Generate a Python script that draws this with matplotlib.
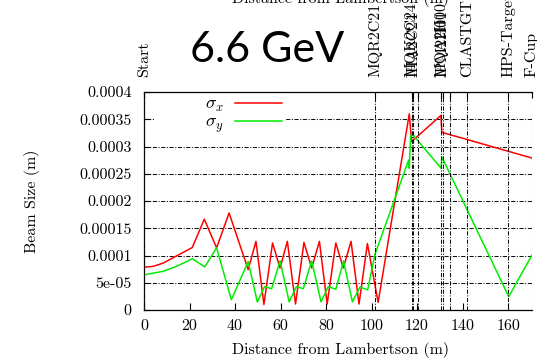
import matplotlib
matplotlib.use('Agg')
import matplotlib.pyplot as plt

plt.rcParams['font.family'] = 'serif'
plt.rcParams['font.serif'] = ['cmr10']
plt.rcParams['mathtext.fontset'] = 'cm'
plt.rcParams['axes.formatter.use_mathtext'] = True

# sigma_x (red) trace
sx_pos = [0, 4, 8.4, 14.2, 21.2, 26.5, 31.9, 37.4, 45.8, 49.2, 52.7, 56.5, 59.8, 63.0,
          66.6, 70.3, 73.7, 77.1, 80.5, 84.3, 87.6, 91.0, 94.5, 98.2, 102.9, 116.6,
          117.6, 130.5, 130.9, 170.4]
sigma_x = [7.85e-5, 8.0e-5, 8.6e-5, 9.9e-5, 1.145e-4, 1.667e-4, 1.14e-4, 1.78e-4, 7.4e-5,
           1.26e-4, 1.0e-5, 1.23e-4, 7.7e-5, 1.26e-4, 1.1e-5, 1.24e-4, 7.7e-5, 1.26e-4,
           1.1e-5, 1.23e-4, 7.7e-5, 1.26e-4, 1.1e-5, 1.22e-4, 1.4e-5, 3.60e-4, 3.09e-4,
           3.57e-4, 3.26e-4, 2.79e-4]

# sigma_y (green) trace
sy_pos = [0, 8.4, 14.2, 21.3, 26.7, 31.9, 38.4, 45.8, 49.8, 53.0, 56.1, 59.8, 63.8, 67.0,
          70.0, 73.7, 77.8, 81.0, 84.3, 87.7, 91.6, 94.9, 98.3, 101.5, 116.3, 116.6, 117.2,
          118.1, 130.6, 130.9, 160.3, 170.4]
sigma_y = [6.45e-5, 7.1e-5, 8.0e-5, 9.4e-5, 7.9e-5, 1.14e-4, 1.9e-5, 8.9e-5, 1.45e-5,
           4.3e-5, 3.9e-5, 9.0e-5, 1.5e-5, 4.3e-5, 3.9e-5, 9.0e-5, 1.5e-5, 4.3e-5, 3.8e-5,
           9.0e-5, 1.5e-5, 4.2e-5, 3.7e-5, 1.02e-4, 2.75e-4, 2.60e-4, 3.20e-4, 3.22e-4,
           2.60e-4, 2.81e-4, 2.45e-5, 1.0e-4]

# beamline elements (top axis)
elem_pos = [0, 101.5, 117.7, 118.4, 120.6, 130.5, 131.2, 134.5, 142.1, 160.1, 170.4]
elem_names = ['Start', 'MQR2C21', 'MQK2C24', 'IHA2C24', '', 'MQA2H00', 'IPM2H01', '',
              'CLASTGT', 'HPS-Target', 'F-Cup']

xtick_vals = [0, 20, 40, 60, 80, 100, 120, 140, 160]
ytick_vals = [0, 5e-5, 1e-4, 1.5e-4, 2e-4, 2.5e-4, 3e-4, 3.5e-4, 4e-4]
ytick_labels = ['0', '5e-05', '0.0001', '0.00015', '0.0002', '0.00025', '0.0003',
                '0.00035', '0.0004']

fig = plt.figure(figsize=(5.37, 3.61), dpi=100)
ax = fig.add_axes([144/537, 51/361, (531.7-144)/537, (310-92)/361])

grid_ls = (0, (4, 1.5, 1, 1.5))
ax.plot(sx_pos, sigma_x, color='#ff0000', lw=1.1, label=r'$\qquad\quad\sigma_x$', zorder=3)
ax.plot(sy_pos, sigma_y, color='#00ee00', lw=1.1, label=r'$\qquad\quad\sigma_y$', zorder=3)

ax.set_xlim(0, 170.4)
ax.set_ylim(0, 4e-4)
ax.set_xticks(xtick_vals, labels=[str(v) for v in xtick_vals])
ax.set_yticks(ytick_vals, labels=ytick_labels)
ax.tick_params(axis='both', direction='in', labelsize=11.5, width=0.8)
ax.tick_params(axis='x', length=5, pad=7)
ax.tick_params(axis='y', length=4, pad=9)
ax.grid(axis='y', color='#111111', lw=0.75, linestyle=grid_ls)
ax.spines['right'].set_visible(False)
for s in ['left', 'bottom', 'top']:
    ax.spines[s].set_linewidth(0.9)

ax2 = ax.twiny()
ax2.set_xlim(ax.get_xlim())
ax2.set_xticks(elem_pos, labels=elem_names, rotation=90)
ax2.tick_params(axis='x', direction='in', length=4, pad=11, labelsize=11.5)
ax2.grid(axis='x', color='#111111', lw=0.75, linestyle=grid_ls)
for s in ax2.spines.values():
    s.set_visible(False)

leg = ax.legend(loc='upper left', bbox_to_anchor=(0.026, 0.995), borderaxespad=0,
                markerfirst=False, frameon=True, framealpha=1, facecolor='white',
                edgecolor='none', fancybox=False, handlelength=2.6, handletextpad=0.6,
                borderpad=0.2, labelspacing=0.0, fontsize=13)
leg.set_zorder(2)

fig.text(32/537, 1 - 201/361, 'Beam Size (m)', rotation=90, ha='center', va='center',
         fontsize=11.5)
fig.text(341/537, 1 - 350/361, 'Distance from Lambertson (m)', ha='center',
         va='center', fontsize=11.5)
fig.text(341/537, 1 - 3/361, 'Distance from Lambertson (m)', ha='center',
         va='baseline', fontsize=11.5)
fig.text(267/537, 1 - 50/361, '6.6 GeV', ha='center', va='center', fontsize=31,
         family='Lato')

fig.savefig('out.png', dpi=100)
